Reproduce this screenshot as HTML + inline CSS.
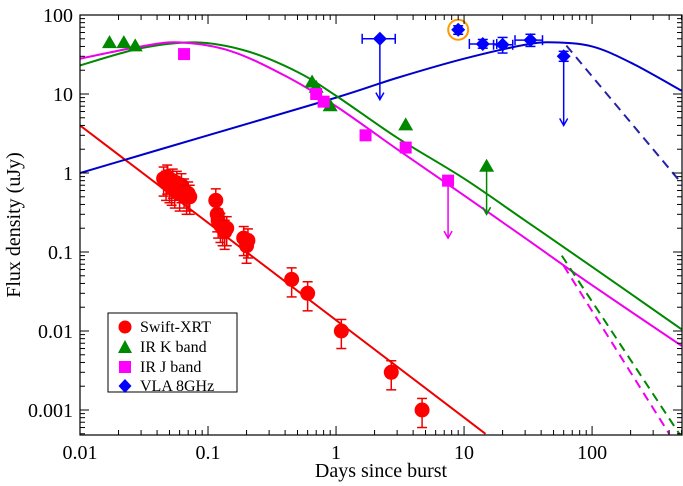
<!DOCTYPE html>
<html><head><meta charset="utf-8"><style>
html,body{margin:0;padding:0;background:#fff;}
svg{display:block;font-family:"Liberation Serif",serif;}
</style></head><body>
<svg id="chart" width="683" height="486" viewBox="0 0 683 486">
<defs><clipPath id="clip"><rect x="80" y="15" width="602" height="420"/></clipPath></defs>
<g id="marks" clip-path="url(#clip)"></g>
<g id="axes"></g>
<text x="20" y="225" font-size="20" text-anchor="middle" transform="rotate(-90 20 225)">Flux density (uJy)</text>
<text x="381" y="477" font-size="20" text-anchor="middle">Days since burst</text>
<g>
<rect x="108" y="313" width="129" height="79" fill="#fff" stroke="#000" stroke-width="1"/>
<g><circle cx="125" cy="327" r="6.5" fill="#f00"/><text x="140" y="332" font-size="16">Swift-XRT</text></g>
<g><polygon points="125,340 132,353 118,353" fill="#080"/><text x="140" y="352" font-size="16">IR K band</text></g>
<g><rect x="119" y="361" width="12" height="12" fill="#f0f"/><text x="140" y="372" font-size="16">IR J band</text></g>
<g><polygon points="125,379 131.5,386 125,393 118.5,386" fill="#00f"/><text x="140" y="391" font-size="16">VLA 8GHz</text></g>
</g>
</svg>
<script>
// ---- data ----
const xrtT=[0.045,0.047,0.048,0.05,0.052,0.053,0.055,0.057,0.06,0.062,0.065,0.068,0.07,0.072,0.115,0.118,0.12,0.125,0.13,0.135,0.14,0.19,0.2,0.205,0.45,0.6,1.1,2.7,4.7];
const xrtV=[0.85,0.75,0.9,0.7,0.65,0.8,0.6,0.75,0.55,0.7,0.6,0.5,0.55,0.5,0.45,0.3,0.25,0.22,0.2,0.18,0.2,0.15,0.12,0.14,0.045,0.03,0.01,0.003,0.001];
const kT=[0.017,0.022,0.027,0.65,0.7,0.9,3.5];
const kV=[44,44,40,14,12,7,4];
const kLimT=[15]; const kLimV=[1.2]; const kLimEnd=[0.3];
const jT=[0.065,0.7,0.8,1.7,3.5];
const jV=[32,10,8,3,2.1];
const jLimT=[7.5]; const jLimV=[0.8]; const jLimEnd=[0.15];
const vlaT=[9,14,20,33];
const vlaV=[65,43,42,48];
const vlaXlo=[9,11,17,25]; const vlaXhi=[9,18,24,41];
const vlaYlo=[57,38,33,40]; const vlaYhi=[73,49,52,57];
const vlaLimT=[2.2,60]; const vlaLimV=[50,30]; const vlaLimEnd=[8.5,4];
const vlaLimXlo=[1.6,60]; const vlaLimXhi=[2.9,60];
const redT=[0.01,14.7];
const redV=[4,0.0005];
const greenT=[0.01,0.03,0.08,0.2,0.5,1,3,10,30,100,500];
const greenV=[23,38,45,35,19,9.5,2.8,0.85,0.25,0.065,0.0105];
const magT=[0.01,0.03,0.06,0.15,0.4,1,3,10,30,100,500];
const magV=[28,40,45,35,17,7,2.0,0.52,0.15,0.038,0.0065];
const blueT=[0.01,0.1,1,3,10,30,50,100,200,500];
const blueV=[1,3,9,16,28,42,45,40,25,11];
const dBlueT=[63,500]; const dBlueV=[41,0.74];
const dGreenT=[58,480]; const dGreenV=[0.09,0.0005];
const dMagT=[60,400]; const dMagV=[0.067,0.0005];
const xTicks=[0.01,0.1,1,10,100]; const xTickLabels=["0.01","0.1","1","10","100"];
const yTicks=[100,10,1,0.1,0.01,0.001]; const yTickLabels=["100","10","1","0.1","0.01","0.001"];
// ---- axes functions ----
const X0=80,X1=682,Y0=15,Y1=435,xMin=-2,xMax=Math.log10(504),yMax=2,yMin=2-420/79;
const xs=t=>X0+(Math.log10(t)-xMin)/(xMax-xMin)*(X1-X0);
const ys=v=>Y0+(yMax-Math.log10(v))/(yMax-yMin)*(Y1-Y0);
const NS="http://www.w3.org/2000/svg";
const marks=document.getElementById('marks'),axes=document.getElementById('axes');
function mk(tag,attrs,parent){const e=document.createElementNS(NS,tag);for(const k in attrs)e.setAttribute(k,attrs[k]);parent.appendChild(e);return e;}
function curve(T,V,color,dash,name){
  let d="";const n=T.length;
  const P=T.map((t,i)=>[xs(t),ys(V[i])]);
  if(n===2){d=`M${P[0][0]},${P[0][1]}L${P[1][0]},${P[1][1]}`;}
  else{d=`M${P[0][0]},${P[0][1]}`;
    for(let i=0;i<n-1;i++){const p0=P[Math.max(0,i-1)],p1=P[i],p2=P[i+1],p3=P[Math.min(n-1,i+2)];
      const c1=[p1[0]+(p2[0]-p0[0])/6,p1[1]+(p2[1]-p0[1])/6],c2=[p2[0]-(p3[0]-p1[0])/6,p2[1]-(p3[1]-p1[1])/6];
      d+=`C${c1[0]},${c1[1]} ${c2[0]},${c2[1]} ${p2[0]},${p2[1]}`;}}
  const e=mk('path',{d,fill:'none',stroke:color,'stroke-width':2,'stroke-dasharray':dash||'none'},marks);
  
  
}
curve(redT,redV,'#e00',null,'xrt-model-line');
curve(blueT,blueV,'#00c',null,'vla-model-curve');
curve(greenT,greenV,'#080',null,'k-band-model-curve');
curve(magT,magV,'#e0e',null,'j-band-model-curve');
curve(dBlueT,dBlueV,'#22a','9,6','vla-jet-break-dashed');
curve(dGreenT,dGreenV,'#080','9,6','k-band-jet-break-dashed');
curve(dMagT,dMagV,'#e0e','9,6','j-band-jet-break-dashed');
function line(x1,y1,x2,y2,c,w){return mk('line',{x1,y1,x2,y2,stroke:c,'stroke-width':w||1.5},marks);}
function arrow(x,y1,y2,c){line(x,y1,x,y2,c);mk('path',{d:`M${x-4},${y2-7}L${x},${y2}L${x+4},${y2-7}`,fill:'none',stroke:c,'stroke-width':1.5},marks);}
// XRT
xrtT.forEach((t,i)=>{const x=xs(t),y=ys(xrtV[i]);const v=xrtV[i];
  const ylo=ys(v*0.6),yhi=ys(v*1.4);line(x,ylo,x,yhi,'#e00');line(x-5,ylo,x+5,ylo,'#e00');line(x-5,yhi,x+5,yhi,'#e00');
  const c=mk('circle',{cx:x,cy:y,r:7.5,fill:'#f00'},marks);
  
  });
function tri(x,y,name){const p=mk('polygon',{points:`${x},${y-8} ${x+7.5},${y+5} ${x-7.5},${y+5}`,fill:'#080'},marks);
  
  }
kT.forEach((t,i)=>tri(xs(t),ys(kV[i]),'k-band-point'));
kLimT.forEach((t,i)=>{arrow(xs(t),ys(kLimV[i]),ys(kLimEnd[i]),'#080');tri(xs(t),ys(kLimV[i]),'k-band-limit');});
function sq(x,y,name){const r=mk('rect',{x:x-6,y:y-6,width:12,height:12,fill:'#f0f'},marks);
  
  }
jT.forEach((t,i)=>sq(xs(t),ys(jV[i]),'j-band-point'));
jLimT.forEach((t,i)=>{arrow(xs(t),ys(jLimV[i]),ys(jLimEnd[i]),'#e0e');sq(xs(t),ys(jLimV[i]),'j-band-limit');});
function dia(x,y,name){const p=mk('polygon',{points:`${x},${y-7} ${x+7},${y} ${x},${y+7} ${x-7},${y}`,fill:'#00f'},marks);
  
  }
vlaT.forEach((t,i)=>{const x=xs(t),y=ys(vlaV[i]);const c='#00f';
  if(vlaXlo[i]!==vlaXhi[i]){line(xs(vlaXlo[i]),y,xs(vlaXhi[i]),y,c);line(xs(vlaXlo[i]),y-5,xs(vlaXlo[i]),y+5,c);line(xs(vlaXhi[i]),y-5,xs(vlaXhi[i]),y+5,c);}
  line(x,ys(vlaYlo[i]),x,ys(vlaYhi[i]),c);line(x-5,ys(vlaYlo[i]),x+5,ys(vlaYlo[i]),c);line(x-5,ys(vlaYhi[i]),x+5,ys(vlaYhi[i]),c);
  dia(x,y,'vla-point');});
vlaLimT.forEach((t,i)=>{const x=xs(t),y=ys(vlaLimV[i]);const c='#00f';
  if(vlaLimXlo[i]!==vlaLimXhi[i]){line(xs(vlaLimXlo[i]),y,xs(vlaLimXhi[i]),y,c);line(xs(vlaLimXlo[i]),y-5,xs(vlaLimXlo[i]),y+5,c);line(xs(vlaLimXhi[i]),y-5,xs(vlaLimXhi[i]),y+5,c);}
  else{line(x-5,y-5,x+5,y-5,c);line(x-5,y+5,x+5,y+5,c);line(x,y-5,x,y+5,c);}
  arrow(x,y,ys(vlaLimEnd[i]),c);dia(x,y,'vla-limit');});
const oc=mk('circle',{cx:xs(vlaT[0]),cy:ys(vlaV[0]),r:10,fill:'none',stroke:'#f90','stroke-width':2},marks);


// axes
mk('rect',{x:X0,y:Y0,width:X1-X0,height:Y1-Y0,fill:'none',stroke:'#000','stroke-width':1.2},axes);
function aline(x1,y1,x2,y2){mk('line',{x1,y1,x2,y2,stroke:'#000','stroke-width':1},axes);}
for(let e=-2;e<=2;e++)for(let m=1;m<10;m++){const t=m*Math.pow(10,e);if(Math.log10(t)>xMax)break;const x=xs(t);const L=m===1?9:5;aline(x,Y1,x,Y1-L);aline(x,Y0,x,Y0+L);}
for(let e=-4;e<=1;e++)for(let m=1;m<10;m++){const v=m*Math.pow(10,e);const lv=Math.log10(v);if(lv<yMin||lv>yMax)continue;const y=ys(v);const L=m===1?9:5;aline(X0,y,X0+L,y);aline(X1,y,X1-L,y);}
xTicks.forEach((t,i)=>{const e=mk('text',{x:xs(t),y:Y1+24,'font-size':20,'text-anchor':'middle'},axes);e.textContent=xTickLabels[i];
  
  });
yTicks.forEach((v,i)=>{const e=mk('text',{x:X0-7,y:ys(v)+7,'font-size':20,'text-anchor':'end'},axes);e.textContent=yTickLabels[i];
  
  });
</script>
</body></html>
